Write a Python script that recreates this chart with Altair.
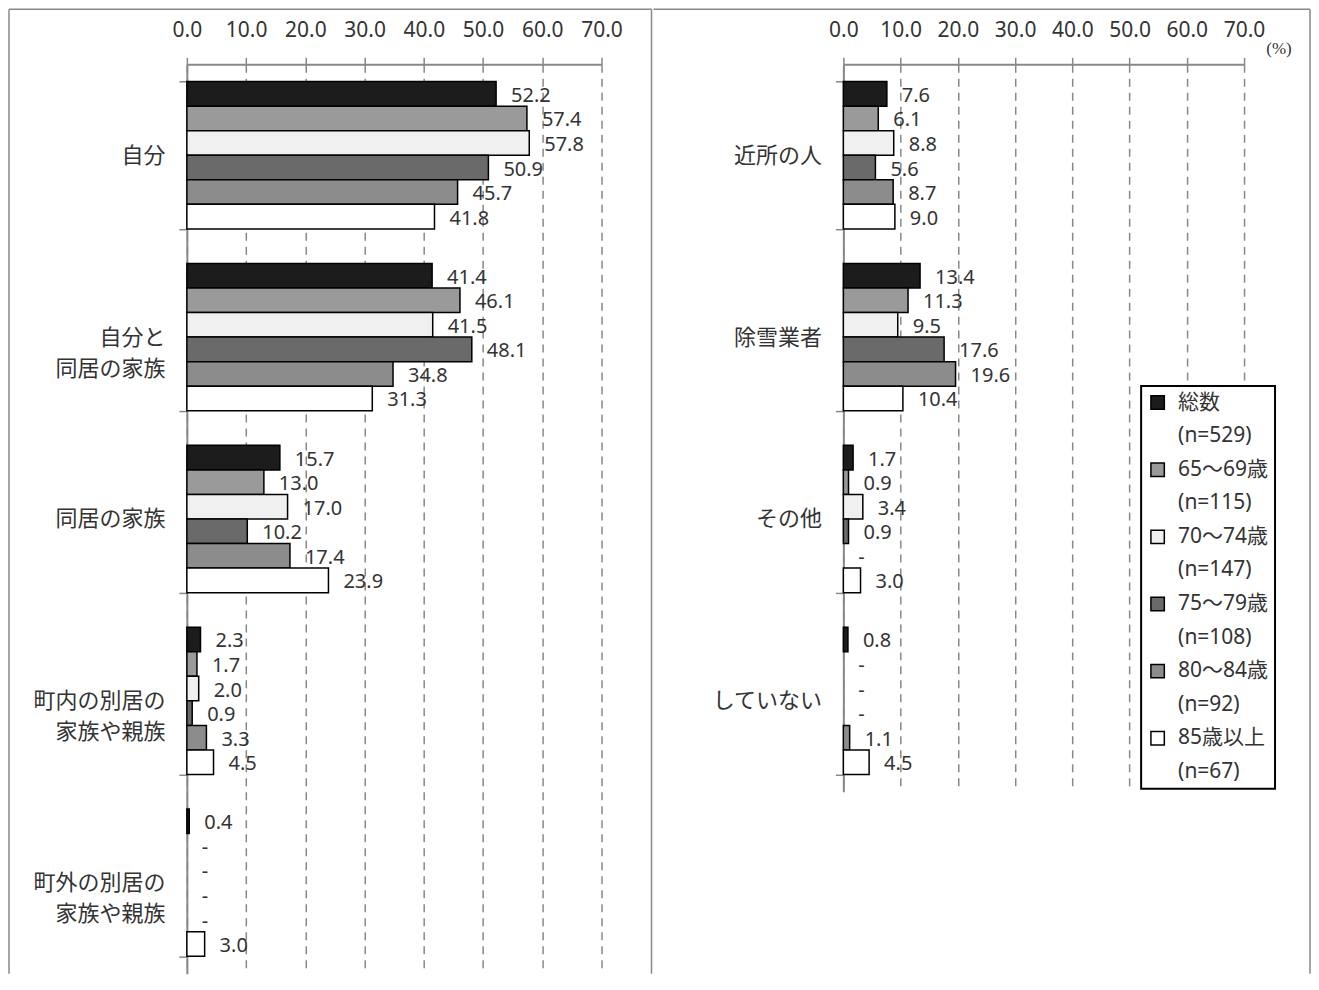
import altair as alt
import pandas as pd

# ---------------- data ----------------
series = ["総数", "65～69歳", "70～74歳", "75～79歳", "80～84歳", "85歳以上"]
n_counts = ["(n=529)", "(n=115)", "(n=147)", "(n=108)", "(n=92)", "(n=67)"]

left_categories = ["自分", "自分と\n同居の家族", "同居の家族", "町内の別居の\n家族や親族", "町外の別居の\n家族や親族"]
right_categories = ["近所の人", "除雪業者", "その他", "していない"]

# values per series (None = "-")
left_total = [52.2, 41.4, 15.7, 2.3, 0.4]
left_65_69 = [57.4, 46.1, 13.0, 1.7, None]
left_70_74 = [57.8, 41.5, 17.0, 2.0, None]
left_75_79 = [50.9, 48.1, 10.2, 0.9, None]
left_80_84 = [45.7, 34.8, 17.4, 3.3, None]
left_85_up = [41.8, 31.3, 23.9, 4.5, 3.0]

right_total = [7.6, 13.4, 1.7, 0.8]
right_65_69 = [6.1, 11.3, 0.9, None]
right_70_74 = [8.8, 9.5, 3.4, None]
right_75_79 = [5.6, 17.6, 0.9, None]
right_80_84 = [8.7, 19.6, None, 1.1]
right_85_up = [9.0, 10.4, 3.0, 4.5]

x_ticks = [0, 10, 20, 30, 40, 50, 60, 70]

fills = ["#1c1c1c", "#9a9a9a", "#f0f0f0", "#6a6a6a", "#8c8c8c", "#ffffff"]

left_values = [left_total, left_65_69, left_70_74, left_75_79, left_80_84, left_85_up]
right_values = [right_total, right_65_69, right_70_74, right_75_79, right_80_84, right_85_up]


def build_table(categories, values):
    rows = []
    for s, vals in zip(series, values):
        for c, v in zip(categories, vals):
            rows.append({
                "category": c,
                "series": s,
                "value": v,
                "xpos": v if v is not None else 0.0,
                "label": f"{v:.1f}" if v is not None else "-",
            })
    return pd.DataFrame(rows)


left_df = build_table(left_categories, left_values)
right_df = build_table(right_categories, right_values)

legend_domain = []
fill_range = []
stroke_range = []
for s, n, f in zip(series, n_counts, fills):
    legend_domain += [s, n]
    fill_range += [f, "transparent"]
    stroke_range += ["black", "transparent"]

NUM_FONT = "Noto Sans"
JP_FONT = "Noto Sans CJK JP"
MIX_FONT = "Noto Sans, Noto Sans CJK JP"
GRAY = "#888888"
TXT = "#333333"
STEP = 182
one = pd.DataFrame({"k": [0]})


def frame_rule(x1, x2, y1, y2):
    return alt.Chart(one).mark_rule(color=GRAY, strokeWidth=1.5).encode(
        x=alt.value(x1), x2=alt.value(x2), y=alt.value(y1), y2=alt.value(y2)
    )


def x_axis():
    return alt.Axis(
        orient="top",
        title=None,
        values=x_ticks,
        format=".1f",
        labelFont=NUM_FONT,
        labelFontSize=21,
        labelColor=TXT,
        labelPadding=17,
        labelOverlap=False,
        labelFlush=False,
        tickSize=7,
        tickColor=GRAY,
        tickWidth=1.5,
        domainColor=GRAY,
        domainWidth=2,
        grid=True,
        gridColor=GRAY,
        gridWidth=1.5,
        gridDash=[8, 6],
    )


def panel(df, categories, legend):
    y_enc = alt.Y(
        "category:N",
        sort=categories,
        scale=alt.Scale(domain=categories, paddingInner=0.19, paddingOuter=0.095),
        axis=alt.Axis(
            title=None,
            labelExpr="split(datum.label, '\\n')",
            labelFont=JP_FONT,
            labelFontSize=22,
            labelLineHeight=31,
            labelColor=TXT,
            labelAlign="right",
            labelBaseline="middle",
            labelPadding=14,
            labelLimit=0,
            tickBand="extent",
            tickSize=8,
            tickColor=GRAY,
            tickWidth=1.5,
            domainColor=GRAY,
            domainWidth=2,
            grid=False,
        ),
    )
    yoff = alt.YOffset("series:N", sort=series,
                       scale=alt.Scale(domain=series, paddingInner=0, paddingOuter=0))
    x_scale = alt.Scale(domain=[0, 70], nice=False, zero=True)

    fill_enc = alt.Fill("series:N", scale=alt.Scale(domain=legend_domain, range=fill_range),
                        legend=legend)
    stroke_enc = alt.Stroke("series:N", scale=alt.Scale(domain=legend_domain, range=stroke_range),
                            legend=legend)

    bars = alt.Chart(df).mark_bar(strokeWidth=1.5).encode(
        x=alt.X("value:Q", scale=x_scale, axis=x_axis()),
        y=y_enc,
        yOffset=yoff,
        fill=fill_enc,
        stroke=stroke_enc,
    )

    labels = alt.Chart(df).mark_text(
        align="left", baseline="middle", dx=15, dy=2,
        font=NUM_FONT, fontSize=20, color=TXT
    ).encode(
        x=alt.X("xpos:Q", scale=x_scale, axis=x_axis()),
        y=y_enc,
        yOffset=yoff,
        text="label:N",
    )
    return bars, labels


left_bars, left_labels = panel(left_df, left_categories, None)
left_h = STEP * len(left_categories)
left = alt.layer(
    left_bars,
    left_labels,
    frame_rule(-178, 465, -55, -55),
    frame_rule(-178, -178, -55, left_h),
    frame_rule(465, 465, -55, left_h),
).properties(width=415, height=left_h)

legend = alt.Legend(
    orient="none",
    legendX=298,
    legendY=322,
    title=None,
)
right_bars, right_labels = panel(right_df, right_categories, legend)
right_h = STEP * len(right_categories)
pct = alt.Chart(pd.DataFrame({"t": ["(%)"]})).mark_text(
    font="Liberation Serif", fontSize=17, color=TXT, align="center", baseline="middle"
).encode(text="t:N", x=alt.value(436), y=alt.value(-15))

right = alt.layer(
    right_bars,
    right_labels,
    pct,
    frame_rule(-190, 467, -55, -55),
    frame_rule(467, 467, -55, left_h),
).properties(width=401, height=right_h)

chart = (
    alt.hconcat(left, right, spacing=0, padding=0)
    .resolve_scale(fill="independent", stroke="independent", x="independent",
                   y="independent", yOffset="independent")
    .configure_view(stroke=None)
    .configure_legend(
        symbolType="square",
        symbolSize=180,
        symbolStrokeWidth=1.5,
        labelFont=MIX_FONT,
        labelFontSize=21,
        labelColor=TXT,
        labelLimit=0,
        labelOffset=10,
        rowPadding=11.6,
        padding=6,
        strokeColor="black",
        strokeWidth=2,
        fillColor="white",
    )
)

chart.save("out.html", embed_options={"renderer": "svg", "actions": False})
